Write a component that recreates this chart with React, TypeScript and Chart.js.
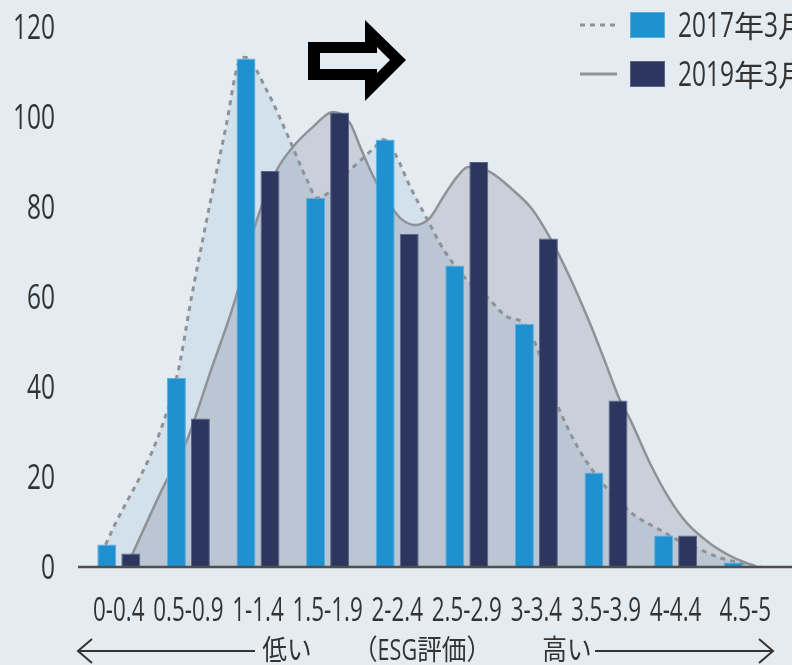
import React, { useEffect, useRef } from 'react';
import { Chart, registerables } from 'chart.js';

Chart.register(...registerables);

// ---------- data ----------
const categories = ['0-0.4', '0.5-0.9', '1-1.4', '1.5-1.9', '2-2.4', '2.5-2.9', '3-3.4', '3.5-3.9', '4-4.4', '4.5-5'];
const bars2017 = [5, 42, 113, 82, 95, 67, 54, 21, 7, 1];
const bars2019 = [3, 33, 88, 101, 74, 90, 73, 37, 7, 0];

// smooth distribution curves (x in category-index units)
const curve2017X = [-0.19, 0.83, 1.05, 1.35, 1.55, 1.7, 1.81, 2.13, 2.46, 2.71, 2.85, 3.32, 3.68, 3.8, 3.97, 4.18, 4.43, 4.66, 5.0, 5.29, 5.58, 5.83, 6.35, 6.59, 6.83, 7.35, 7.78, 8.03, 8.36, 8.65, 9.22];
const curve2017Y = [4.9, 42, 60.4, 83.8, 98.7, 111, 113.3, 105.8, 94.7, 85.8, 82, 88.2, 93.3, 95, 91.8, 84.7, 77.3, 70.7, 63.8, 60, 55.6, 54, 34.2, 26.7, 21, 12.2, 8.2, 6, 3.8, 2, 0];
const curve2019X = [0.19, 0.64, 0.98, 1.31, 1.67, 1.96, 2.27, 2.5, 2.79, 3.08, 3.32, 3.47, 3.66, 3.85, 4.04, 4.26, 4.47, 4.66, 4.86, 5.02, 5.33, 5.66, 5.95, 6.19, 6.48, 6.73, 6.96, 7.2, 7.35, 7.63, 7.92, 8.16, 8.49, 8.82, 9.17];
const curve2019Y = [2.7, 17.8, 28.2, 43.1, 59.3, 76, 88.2, 93.3, 97.8, 101.1, 98.7, 93.3, 86.7, 81.6, 77.6, 76, 77.6, 82.2, 86.7, 88.9, 87.8, 83.8, 79.3, 73.3, 64.4, 55.6, 46.7, 37.1, 32.7, 23.1, 14.9, 9.8, 5.3, 2.2, 0];

const yTicks = [0, 20, 40, 60, 80, 100, 120];

const legendLabels = ['2017年3月', '2019年3月'];
const captionLow = '低い';
const captionMid = '（ESG評価）';
const captionHigh = '高い';

// ---------- style ----------
const W = 792;
const H = 665;
const BG = '#e4ecf2';
const C2017 = '#1f91d1';
const C2019 = '#2c365f';
const FILL2017 = 'rgb(236,243,249)';
const FILL2019 = 'rgb(226,225,230)';
const CURVE = '#8f9296';
const TEXT = '#333333';
const LATIN = '"Open Sans", "Noto Sans", sans-serif';
const CJKF = '"Noto Sans CJK JP", sans-serif';

type FontSpec = { size: number; sx: number };

function isCJK(ch: string) {
  return /[\u3000-\u30ff\u4e00-\u9fff\uff00-\uffef]/.test(ch);
}

function drawMixed(
  ctx: CanvasRenderingContext2D,
  text: string,
  x: number,
  y: number,
  align: 'left' | 'center' | 'right',
  latin: FontSpec,
  cjk: FontSpec,
) {
  const runs: { t: string; c: boolean }[] = [];
  for (const ch of text) {
    const c = isCJK(ch);
    if (runs.length && runs[runs.length - 1].c === c) runs[runs.length - 1].t += ch;
    else runs.push({ t: ch, c });
  }
  const fontOf = (c: boolean) => (c ? `${cjk.size}px ${CJKF}` : `${latin.size}px ${LATIN}`);
  const widths = runs.map((r) => {
    ctx.font = fontOf(r.c);
    return ctx.measureText(r.t).width * (r.c ? cjk.sx : latin.sx);
  });
  const total = widths.reduce((a, b) => a + b, 0);
  let cx = align === 'center' ? x - total / 2 : align === 'right' ? x - total : x;
  ctx.textAlign = 'left';
  ctx.textBaseline = 'alphabetic';
  runs.forEach((r, i) => {
    ctx.font = fontOf(r.c);
    ctx.save();
    ctx.translate(cx, y);
    ctx.scale(r.c ? cjk.sx : latin.sx, 1);
    ctx.fillText(r.t, 0, 0);
    ctx.restore();
    cx += widths[i];
  });
}

// shared layout: plot area left 84, right 780, top 27, bottom 567
const layoutOpts = { padding: { top: 27, right: 12, left: 0, bottom: 0 }, autoPadding: false } as any;
const yScale = {
  min: 0,
  max: 120,
  grid: { display: false },
  border: { display: false },
  ticks: { display: false, stepSize: 20 },
  afterFit: (s: any) => { s.width = 84; },
};

// ---------- back layer: background + distribution curves ----------
const curvesPlugin = {
  id: 'curvesDecor',
  beforeDraw(chart: any) {
    const ctx: CanvasRenderingContext2D = chart.ctx;
    ctx.save();
    ctx.fillStyle = BG;
    ctx.fillRect(0, 0, chart.width, chart.height);
    ctx.restore();
  },
  beforeDatasetsDraw(chart: any) {
    const ctx: CanvasRenderingContext2D = chart.ctx;
    const area = chart.chartArea;
    const yBase = chart.scales.y.getPixelForValue(0);
    ctx.save();
    ctx.globalCompositeOperation = 'multiply';
    const fills: [number, string][] = [[1, FILL2019], [0, FILL2017]];
    for (const [idx, color] of fills) {
      const meta = chart.getDatasetMeta(idx);
      const line = meta.dataset;
      const pts = meta.data;
      if (!line || !pts.length) continue;
      line.updateControlPoints(area, 'x');
      ctx.beginPath();
      line.path(ctx);
      ctx.lineTo(pts[pts.length - 1].x, yBase);
      ctx.lineTo(pts[0].x, yBase);
      ctx.closePath();
      ctx.fillStyle = color;
      ctx.fill();
    }
    ctx.restore();
  },
};

// ---------- front layer: bars + axes text + legend ----------
const frontPlugin = {
  id: 'frontDecor',
  afterDatasetsDraw(chart: any) {
    const ctx: CanvasRenderingContext2D = chart.ctx;
    const area = chart.chartArea;
    const xs = chart.scales.x;
    const ys = chart.scales.y;
    const yBase = ys.getPixelForValue(0);

    // baseline
    ctx.save();
    ctx.strokeStyle = '#4d4f52';
    ctx.lineWidth = 2.5;
    ctx.beginPath();
    ctx.moveTo(area.left - 6, yBase);
    ctx.lineTo(chart.width, yBase);
    ctx.stroke();
    ctx.restore();

    ctx.save();
    ctx.fillStyle = TEXT;
    yTicks.forEach((v) => {
      drawMixed(ctx, String(v), area.left - 29, ys.getPixelForValue(v) + 12, 'right', { size: 34, sx: 0.72 }, { size: 30, sx: 1 });
    });
    categories.forEach((c, i) => {
      drawMixed(ctx, c, xs.getPixelForValue(i), area.bottom + 54, 'center', { size: 32, sx: 0.7 }, { size: 30, sx: 1 });
    });
    const cb = area.bottom + 93;
    const capLatin = { size: 30, sx: 0.72 };
    const capCJK = { size: 28, sx: 0.88 };
    drawMixed(ctx, captionLow, 287, cb, 'center', capLatin, capCJK);
    drawMixed(ctx, captionMid, 422, cb, 'center', capLatin, capCJK);
    drawMixed(ctx, captionHigh, 567, cb, 'center', capLatin, capCJK);
    ctx.restore();

    // caption arrows
    const cy = area.bottom + 84;
    ctx.save();
    ctx.strokeStyle = TEXT;
    ctx.lineWidth = 2;
    ctx.beginPath();
    ctx.moveTo(area.left - 6, cy);
    ctx.lineTo(255, cy);
    ctx.moveTo(area.left - 6 + 14, cy - 12);
    ctx.lineTo(area.left - 6, cy);
    ctx.lineTo(area.left - 6 + 14, cy + 12);
    ctx.moveTo(595, cy);
    ctx.lineTo(773, cy);
    ctx.moveTo(773 - 14, cy - 12);
    ctx.lineTo(773, cy);
    ctx.lineTo(773 - 14, cy + 12);
    ctx.stroke();
    ctx.restore();

    // big hollow arrow
    ctx.save();
    ctx.fillStyle = '#000';
    ctx.beginPath();
    ctx.moveTo(308, 42); ctx.lineTo(365, 42); ctx.lineTo(365, 20); ctx.lineTo(406, 60);
    ctx.lineTo(365, 101); ctx.lineTo(365, 80); ctx.lineTo(308, 80); ctx.closePath();
    ctx.moveTo(320, 53); ctx.lineTo(377, 53); ctx.lineTo(377, 47); ctx.lineTo(390, 60);
    ctx.lineTo(377, 73); ctx.lineTo(377, 69); ctx.lineTo(320, 69); ctx.closePath();
    ctx.fill('evenodd');
    ctx.restore();

    // legend
    const rows = [
      { label: legendLabels[0], color: C2017, border: '#5aaede', dash: [5, 5], cy: 25 },
      { label: legendLabels[1], color: C2019, border: '#5a6488', dash: [] as number[], cy: 74 },
    ];
    ctx.save();
    for (const r of rows) {
      ctx.strokeStyle = CURVE;
      ctx.lineWidth = 3;
      ctx.setLineDash(r.dash);
      ctx.beginPath();
      ctx.moveTo(580, r.cy);
      ctx.lineTo(617, r.cy);
      ctx.stroke();
      ctx.setLineDash([]);
      ctx.fillStyle = r.color;
      ctx.fillRect(630, r.cy - 13, 35, 26);
      ctx.strokeStyle = r.border;
      ctx.lineWidth = 1;
      ctx.strokeRect(630.5, r.cy - 12.5, 34, 25);
      ctx.fillStyle = TEXT;
      drawMixed(ctx, r.label, 678, r.cy + 12, 'left', { size: 34, sx: 0.72 }, { size: 30, sx: 1 });
    }
    ctx.restore();
  },
};

export default function App() {
  const backRef = useRef<HTMLCanvasElement | null>(null);
  const frontRef = useRef<HTMLCanvasElement | null>(null);

  useEffect(() => {
    document.body.style.margin = '0';
    document.body.style.background = BG;
    const back = backRef.current;
    const front = frontRef.current;
    if (!back || !front) return;

    const curves = new Chart(back, {
      type: 'line',
      data: {
        datasets: [
          {
            label: legendLabels[0],
            data: curve2017X.map((x, i) => ({ x, y: curve2017Y[i] })),
            borderColor: CURVE,
            borderWidth: 3,
            borderDash: [5, 5],
            pointRadius: 0,
            fill: false,
            cubicInterpolationMode: 'monotone',
          },
          {
            label: legendLabels[1],
            data: curve2019X.map((x, i) => ({ x, y: curve2019Y[i] })),
            borderColor: CURVE,
            borderWidth: 2.5,
            pointRadius: 0,
            fill: false,
            cubicInterpolationMode: 'monotone',
          },
        ],
      },
      options: {
        animation: false,
        responsive: false,
        layout: layoutOpts,
        plugins: { legend: { display: false }, tooltip: { enabled: false } },
        scales: {
          x: {
            type: 'linear',
            min: -0.5,
            max: 9.5,
            offset: false,
            grid: { display: false },
            border: { display: false },
            ticks: { display: false },
            afterFit: (s: any) => { s.height = 98; },
          },
          y: yScale,
        },
      } as any,
      plugins: [curvesPlugin],
    });

    const bars = new Chart(front, {
      type: 'bar',
      data: {
        labels: categories,
        datasets: [
          {
            label: legendLabels[0],
            data: bars2017,
            backgroundColor: C2017,
            borderColor: '#5aaede',
            borderWidth: 1,
            barPercentage: 0.79,
            categoryPercentage: 0.69,
          },
          {
            label: legendLabels[1],
            data: bars2019,
            backgroundColor: C2019,
            borderColor: '#5a6488',
            borderWidth: 1,
            barPercentage: 0.79,
            categoryPercentage: 0.69,
          },
        ],
      },
      options: {
        animation: false,
        responsive: false,
        layout: layoutOpts,
        plugins: { legend: { display: false }, tooltip: { enabled: false } },
        scales: {
          x: {
            type: 'category',
            offset: true,
            grid: { display: false },
            border: { display: false },
            ticks: { display: false },
            afterFit: (s: any) => { s.height = 98; },
          },
          y: yScale,
        },
      } as any,
      plugins: [frontPlugin],
    });

    return () => {
      bars.destroy();
      curves.destroy();
    };
  }, []);

  const canvasStyle: React.CSSProperties = { position: 'absolute', left: 0, top: 0, width: W, height: H };
  return (
    <div style={{ position: 'fixed', left: 0, top: 0, width: W, height: H, background: BG }}>
      <canvas ref={backRef} width={W} height={H} style={canvasStyle} />
      <canvas ref={frontRef} width={W} height={H} style={canvasStyle} />
    </div>
  );
}
